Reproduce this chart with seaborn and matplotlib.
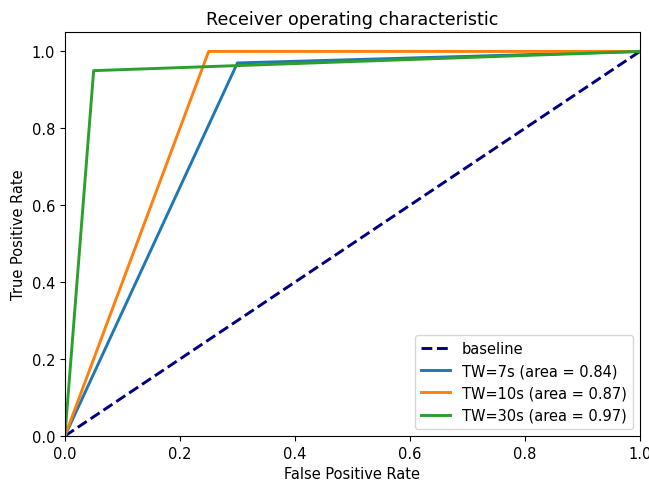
import pandas as pd
import seaborn as sb
import matplotlib
matplotlib.use('Agg')
import matplotlib.pyplot as plt

# roc points
baseline_fpr = [0.0, 1.0]
baseline_tpr = [0.0, 1.0]

fpr_7s = [0.0, 0.30, 1.0]
tpr_7s = [0.0, 0.97, 1.0]
fpr_10s = [0.0, 0.25, 1.0]
tpr_10s = [0.0, 1.00, 1.0]
fpr_30s = [0.0, 0.05, 1.0]
tpr_30s = [0.0, 0.95, 1.0]

labels = ['TW=7s (area = 0.84)', 'TW=10s (area = 0.87)', 'TW=30s (area = 0.97)']

curves = pd.concat([
    pd.DataFrame({'fpr': fpr_7s, 'tpr': tpr_7s, 'tw': labels[0]}),
    pd.DataFrame({'fpr': fpr_10s, 'tpr': tpr_10s, 'tw': labels[1]}),
    pd.DataFrame({'fpr': fpr_30s, 'tpr': tpr_30s, 'tw': labels[2]}),
], ignore_index=True)
base = pd.DataFrame({'fpr': baseline_fpr, 'tpr': baseline_tpr})

plt.rcParams['font.size'] = 10.5

fig, ax = plt.subplots(figsize=(6.49, 4.81), dpi=100)
fig.subplots_adjust(left=0.100, right=0.986, top=0.931, bottom=0.0915)

sb.lineplot(data=base, x='fpr', y='tpr', ax=ax, color='navy', lw=2.1,
            linestyle='--', label='baseline', sort=False)
sb.lineplot(data=curves, x='fpr', y='tpr', hue='tw', ax=ax, lw=2.1, sort=False,
            palette=['tab:blue', 'tab:orange', 'tab:green'])

ax.set(xlim=(0.0, 1.0), ylim=(0.0, 1.05),
       xlabel='False Positive Rate', ylabel='True Positive Rate',
       title='Receiver operating characteristic')
ax.legend(loc='lower right')

fig.savefig('out.png')
